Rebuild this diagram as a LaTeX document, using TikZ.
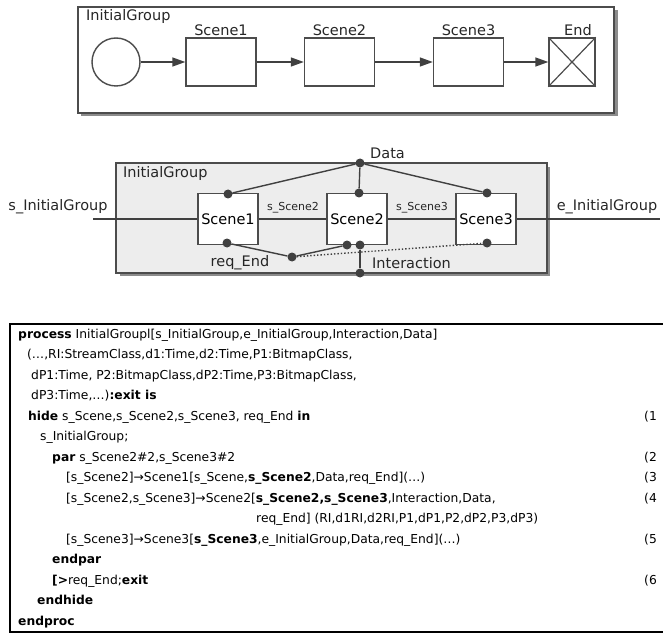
\documentclass[tikz,border=0pt]{standalone}
\usepackage{fontspec}
\setmainfont{DejaVu Sans}
\usetikzlibrary{arrows.meta}
\tikzset{
 ln/.style={draw=black!75, line width=1.4pt},
 frm/.style={draw=black!70, line width=1.4pt},
 box/.style={draw=black!70, line width=1.4pt, fill=white, minimum width=70pt, minimum height=48pt, inner sep=0pt},
 mbox/.style={draw=black!70, line width=1.4pt, fill=white, minimum width=60pt, minimum height=51pt, inner sep=0pt, font=\fontsize{14.5}{16}\selectfont},
 dot/.style={circle, fill=black!75, inner sep=0pt, minimum size=9pt},
 lbl/.style={font=\fontsize{14.5}{16}\selectfont, text=black!85, inner sep=0pt},
 small/.style={font=\fontsize{11}{12}\selectfont, text=black!85, inner sep=0pt},
 code/.style={font=\fontsize{12.3}{14}\selectfont, anchor=base west, inner sep=0pt},
 arr/.style={ln, -{Triangle[length=13pt,width=9pt]}},
}
\begin{document}
\begin{tikzpicture}[x=1pt,y=-1pt]
\useasboundingbox (0,0) rectangle (663,636);
% ---------- top diagram ----------
\draw[black!45, line width=3pt] (81,115) -- (616,115) -- (616,10);
\draw[frm, fill=white] (78,7) rectangle (614,113);
\node[lbl, anchor=west] (tg) at (86,17) {InitialGroup};
\node[circle, draw=black!70, line width=1.4pt, minimum size=48pt, inner sep=0pt] (start) at (116,62) {};
\node[box] (t1) at (221,62) {};
\node[box] (t2) at (339.5,62) {};
\node[box] (t3) at (468.5,62) {};
\node[box, minimum width=46pt] (tend) at (572,62) {};
\draw[black!70, line width=1.2pt] (tend.north west) -- (tend.south east) (tend.north east) -- (tend.south west);
\node[lbl] (t1l) at (221,30) {Scene1};
\node[lbl] (t2l) at (339.5,30) {Scene2};
\node[lbl] (t3l) at (468.5,30) {Scene3};
\node[lbl] (tel) at (578,30) {End};
\draw[arr] (start) -- (t1);
\draw[arr] (t1) -- (t2);
\draw[arr] (t2) -- (t3);
\draw[arr] (t3) -- (tend);
% ---------- middle diagram ----------
\fill[black!45] (120,167) rectangle (550,276);
\draw[frm, fill=black!7] (116,163) rectangle (547,273);
\node[lbl, anchor=west] (mg) at (123,174) {InitialGroup};
\coordinate (sin) at (93,219);
\coordinate (ein) at (660,219);
\node[mbox] (m1) at (228,219) {Scene1};
\node[mbox] (m2) at (357,219) {Scene2};
\node[mbox] (m3) at (486,219) {Scene3};
\draw[ln] (sin) -- (m1.west);
\draw[ln] (m1.east) -- (m2.west);
\draw[ln] (m2.east) -- (m3.west);
\draw[ln] (m3.east) -- (ein);
\node[lbl] (sinl) at (58,207) {s\_InitialGroup};
\node[lbl] (einl) at (607,207) {e\_InitialGroup};
\node[small] (s2l) at (293,208) {s\_Scene2};
\node[small] (s3l) at (422,208) {s\_Scene3};
\node[dot] (data) at (360,163) {};
\node[dot] (d1t) at (228,194) {};
\node[dot] (d2t) at (359,193) {};
\node[dot] (d3t) at (487,193) {};
\node[dot] (d1b) at (227,243) {};
\node[dot] (d2bl) at (347,245) {};
\node[dot] (d2br) at (360,245) {};
\node[dot] (d3b) at (487,243) {};
\node[dot] (req) at (292,257) {};
\node[dot] (inter) at (360,273) {};
\draw[ln] (data) -- (d1t);
\draw[ln] (data) -- (d2t);
\draw[ln] (data) -- (d3t);
\draw[ln] (d1b) -- (req);
\draw[ln] (req) -- (d2bl);
\draw[ln] (d2br) -- (inter);
\draw[draw=black!75, line width=1.4pt, dotted] (req) -- (d3b);
\node[lbl, anchor=west] (datal) at (370,153) {Data};
\node[lbl] (reql) at (240,263) {req\_End};
\node[lbl, anchor=west] (interl) at (372,263) {Interaction};
% ---------- code box ----------
\draw[black, line width=1.1pt] (670,324) -- (10,324) -- (10,632) -- (670,632);
\node[code] (c0) at (18,338) {\textbf{process} InitialGroupl[s\_InitialGroup,e\_InitialGroup,Interaction,Data]};
\node[code] (c1) at (27,358.5) {(…,RI:StreamClass,d1:Time,d2:Time,P1:BitmapClass,};
\node[code] (c2) at (31,379) {dP1:Time, P2:BitmapClass,dP2:Time,P3:BitmapClass,};
\node[code] (c3) at (31,399.5) {dP3:Time,…)\textbf{:exit is}};
\node[code] (c4) at (28,420) {\textbf{hide} s\_Scene,s\_Scene2,s\_Scene3, req\_End \textbf{in}};
\node[code] (c5) at (40,440.5) {s\_InitialGroup;};
\node[code] (c6) at (52,461) {\textbf{par} s\_Scene2\#2,s\_Scene3\#2};
\node[code] (c7) at (66,481.5) {[s\_Scene2]→Scene1[s\_Scene,\textbf{s\_Scene2},Data,req\_End](…)};
\node[code] (c8) at (66,502) {[s\_Scene2,s\_Scene3]→Scene2[\textbf{s\_Scene2,s\_Scene3},Interaction,Data,};
\node[code] (c9) at (256,522.5) {req\_End] (RI,d1RI,d2RI,P1,dP1,P2,dP2,P3,dP3)};
\node[code] (c10) at (66,543) {[s\_Scene3]→Scene3[\textbf{s\_Scene3},e\_InitialGroup,Data,req\_End](…)};
\node[code] (c11) at (52,563.5) {\textbf{endpar}};
\node[code] (c12) at (52,584) {\textbf{[>}req\_End;\textbf{exit}};
\node[code] (c13) at (37,604.5) {\textbf{endhide}};
\node[code] (c14) at (18,625) {\textbf{endproc}};
\node[code] (n1) at (644,420) {(1};
\node[code] (n2) at (644,461) {(2};
\node[code] (n3) at (644,481.5) {(3};
\node[code] (n4) at (644,502) {(4};
\node[code] (n5) at (644,543) {(5};
\node[code] (n6) at (644,584) {(6};
\end{tikzpicture}
\end{document}
